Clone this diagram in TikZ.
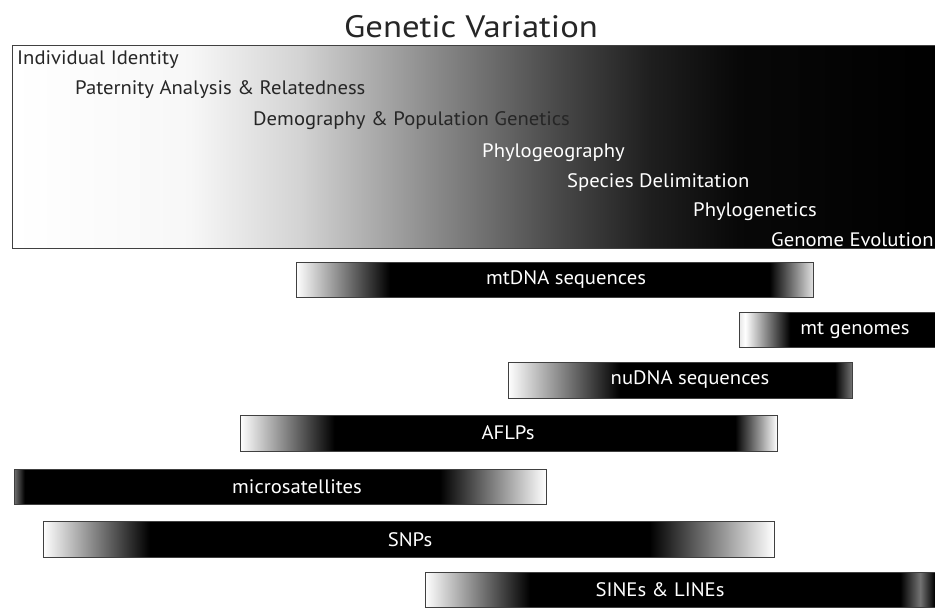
\documentclass[tikz,border=0pt]{standalone}
\usepackage{fontspec}
\setmainfont[FakeStretch=1.06]{PT Sans}
\newfontfamily\titlefont[FakeStretch=1.12]{PT Sans}
\usetikzlibrary{shadings}
% shadings: the 25bp..75bp range spans the filled path
\pgfdeclarehorizontalshading{fadebig}{100bp}{color(0bp)=(white); color(25bp)=(white); color(34.5bp)=(black!3); color(40.4bp)=(black!17); color(47.4bp)=(black!45); color(54.4bp)=(black!72); color(59.2bp)=(black!88); color(64bp)=(black!97); color(75bp)=(black); color(100bp)=(black)}
\pgfdeclarehorizontalshading{fademtdna}{100bp}{color(0bp)=(white); color(25bp)=(white); color(34.1bp)=(black); color(70.8bp)=(black); color(75bp)=(black!12); color(100bp)=(black!12)}
\pgfdeclarehorizontalshading{fademtgen}{100bp}{color(0bp)=(white); color(25bp)=(black!10); color(26.5bp)=(white); color(37.4bp)=(black); color(75bp)=(black); color(100bp)=(black)}
\pgfdeclarehorizontalshading{fadenudna}{100bp}{color(0bp)=(white); color(25bp)=(white); color(41.3bp)=(black); color(72.5bp)=(black); color(75bp)=(black!55); color(100bp)=(black!55)}
\pgfdeclarehorizontalshading{fadeaflp}{100bp}{color(0bp)=(white); color(25bp)=(white); color(33.8bp)=(black); color(71.1bp)=(black); color(75bp)=(white); color(100bp)=(white)}
\pgfdeclarehorizontalshading{fademicro}{100bp}{color(0bp)=(black!55); color(25bp)=(black!55); color(26bp)=(black); color(65bp)=(black); color(75bp)=(white); color(100bp)=(white)}
\pgfdeclarehorizontalshading{fadesnp}{100bp}{color(0bp)=(white); color(25bp)=(white); color(32.3bp)=(black); color(66.5bp)=(black); color(75bp)=(white); color(100bp)=(white)}
\pgfdeclarehorizontalshading{fadesine}{100bp}{color(0bp)=(white); color(25bp)=(white); color(35.1bp)=(black); color(70.7bp)=(black); color(72.6bp)=(black!55); color(74bp)=(black); color(100bp)=(black)}
\tikzstyle{bar} = [draw=black!75, line width=0.8pt]
\tikzstyle{use} = [anchor=west, inner sep=0pt, font=\fontsize{19.5}{22}\selectfont]
\tikzstyle{marker} = [inner sep=0pt, text=white, font=\fontsize{19.5}{22}\selectfont]

\begin{document}
\begin{tikzpicture}[x=1pt, y=-1pt]
		\clip (0,0) rectangle (935,608);
		\fill[white] (0,0) rectangle (935,608);
		\useasboundingbox (0,0) rectangle (935,608);
		% Title and uses
		\node[inner sep=0pt, font=\titlefont\fontsize{31}{34}\selectfont, text=black!85] (Title) at (471,27) {Genetic Variation};
		\path[bar, shading=fadebig] (12,45) rectangle (945,248);
		\node[use, text=black!85] (Identity) at (17,60) {Individual Identity};
		\node[use, text=black!85] (Paternity) at (75,90) {Paternity Analysis \& Relatedness};
		\node[use, text=black!85] (Demography) at (253,121) {Demography \& Population Genetics};
		\node[use, text=white] (Phylogeography) at (482,153) {Phylogeography};
		\node[use, text=white] (Species) at (567,183) {Species Delimitation};
		\node[use, text=white] (Phylogenetics) at (693,212) {Phylogenetics};
		\node[use, text=white] (Genome) at (771,240) {Genome Evolution};
		
		% Markers
		\path[bar, shading=fademtdna] (296,262) rectangle (813,297);
		\node[marker] (mtDNA) at (566,280) {mtDNA sequences};
		\path[bar, shading=fademtgen] (739,312) rectangle (945,347);
		\node[marker] (mtGenomes) at (855,330) {mt genomes};
		\path[bar, shading=fadenudna] (508,362) rectangle (852,398);
		\node[marker] (nuDNA) at (690,380) {nuDNA sequences};
		\path[bar, shading=fadeaflp] (240,415) rectangle (777,451);
		\node[marker] (AFLPs) at (508,433) {AFLPs};
		\path[bar, shading=fademicro] (14,469) rectangle (546,504);
		\node[marker] (Microsatellites) at (297,487) {microsatellites};
		\path[bar, shading=fadesnp] (43,521) rectangle (774,557);
		\node[marker] (SNPs) at (410,540) {SNPs};
		\path[bar, shading=fadesine] (425,572) rectangle (945,607);
		\node[marker] (SINEs) at (660,590) {SINEs \& LINEs};
		
	\end{tikzpicture}
\end{document}
